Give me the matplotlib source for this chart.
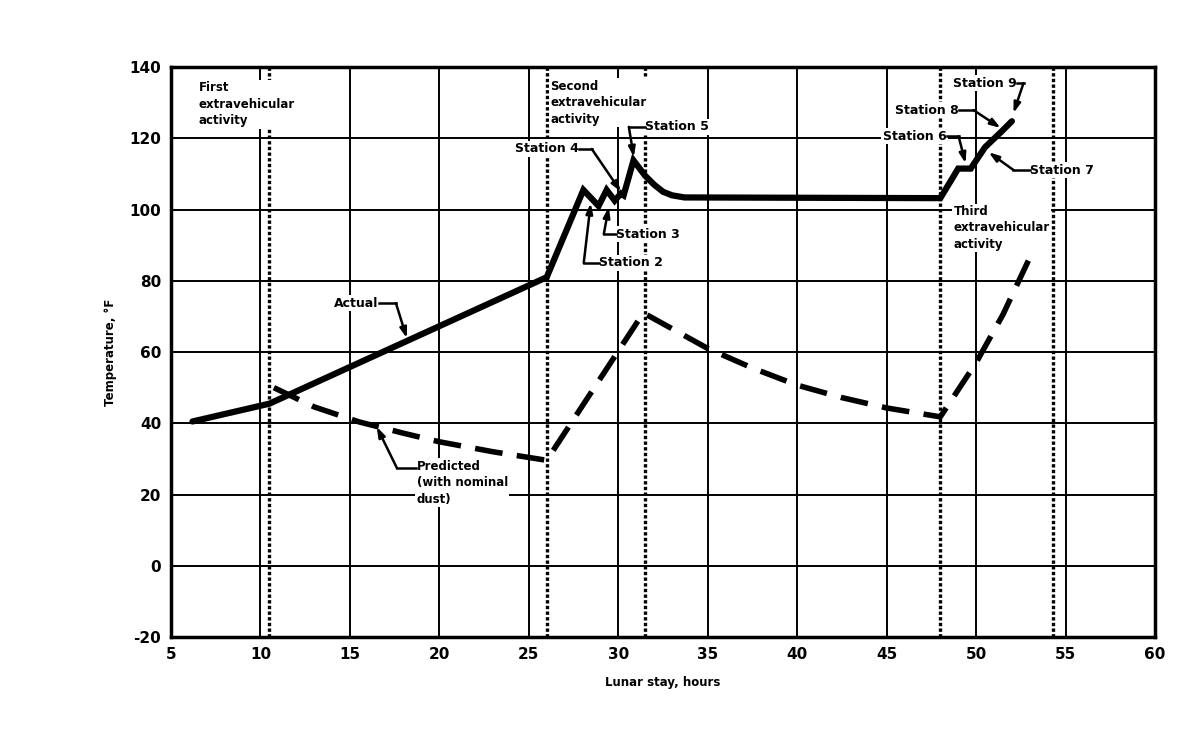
import matplotlib
matplotlib.use('Agg')
import matplotlib.pyplot as plt

plt.rcParams['axes.unicode_minus'] = False

# 实测温度曲线
actual_x = [6.2, 10.5, 26.0, 28.05, 28.9, 29.35, 29.8, 30.15, 30.3, 30.85,
            31.5, 32.0, 32.5, 33.0, 33.7, 48.0, 49.0, 49.7, 50.5, 51.4, 52.0]
actual_y = [40.5, 45.5, 81.0, 105.5, 101.0, 105.5, 102.5, 104.5, 104.0, 113.8,
            109.5, 107.0, 105.0, 104.0, 103.4, 103.2, 111.5, 111.5, 117.5, 121.8, 124.8]

# 预测温度曲线 (nominal dust)
pred_x = [10.75, 13.0, 15.5, 18.0, 20.0, 23.0, 26.0, 31.4, 35.0, 37.5, 40.0,
          42.5, 45.0, 48.0, 50.0, 51.5, 53.0]
pred_y = [50.0, 44.6, 40.4, 37.2, 34.8, 32.0, 29.6, 71.0, 61.0, 55.5, 50.7,
          47.2, 44.3, 41.8, 57.0, 70.5, 86.5]

# 舱外活动开始/结束时刻
eva_hours = [10.5, 26.0, 31.5, 48.0, 54.3]

x_ticks = [5, 10, 15, 20, 25, 30, 35, 40, 45, 50, 55, 60]
y_ticks = [-20, 0, 20, 40, 60, 80, 100, 120, 140]

# 标注: 文字, 文字位置, 对齐, 折点, 箭头指向
labels = [
    ("Station 2", (28.9, 85.0), 'left', (28.07, 85.0), (28.46, 101.8)),
    ("Station 3", (29.9, 93.1), 'left', (29.19, 93.1), (29.47, 100.7)),
    ("Station 4", (27.79, 117.0), 'right', (28.52, 117.0), (30.15, 105.0)),
    ("Station 5", (31.48, 123.2), 'left', (30.59, 123.2), (30.87, 114.7)),
    ("Station 6", (48.35, 120.6), 'right', (49.02, 120.6), (49.41, 113.0)),
    ("Station 7", (53.04, 111.1), 'left', (52.09, 111.1), (50.7, 116.1)),
    ("Station 8", (49.02, 127.9), 'right', (49.86, 127.9), (51.37, 122.9)),
    ("Station 9", (52.26, 135.5), 'right', (52.65, 135.5), (52.09, 127.1)),
]

ARROW = dict(arrowstyle='-|>,head_length=0.6,head_width=0.2',
             color='black', lw=1.8, shrinkA=0, shrinkB=0)


def leader(ax, text, pos, ha, corner, tip, size):
    """文字 + 水平短线 + 斜向箭头"""
    ax.text(pos[0], pos[1], text, fontsize=size, fontweight='bold', ha=ha,
            va='center', bbox=dict(facecolor='white', edgecolor='none', pad=1),
            zorder=5)
    ax.plot([pos[0], corner[0]], [pos[1], corner[1]], color='black',
            linewidth=1.8, zorder=5)
    ax.annotate('', xy=tip, xytext=corner, arrowprops=ARROW, zorder=5)


fig = plt.figure(figsize=(12, 7.37), dpi=100)
ax = fig.add_axes([0.1425, 0.1357, 0.82, 0.7733])

ax.set_xlim(5, 60)
ax.set_ylim(-20, 140)
ax.set_xticks(x_ticks)
ax.set_yticks(y_ticks)
ax.tick_params(length=0, labelsize=11, pad=7)
for lab in ax.get_xticklabels() + ax.get_yticklabels():
    lab.set_fontweight('bold')
ax.grid(True, color='black', linewidth=1.4)
ax.set_axisbelow(True)
for sp in ax.spines.values():
    sp.set_linewidth(2.5)

for h in eva_hours:
    ax.axvline(h, color='black', linewidth=2.4, linestyle=(0, (1, 0.7)), zorder=1)

ax.plot(actual_x, actual_y, color='black', linewidth=4.5, solid_joinstyle='miter',
        solid_capstyle='round', zorder=4)
ax.plot(pred_x, pred_y, color='black', linewidth=4.0, linestyle=(0, (5, 2.6)),
        zorder=4)

box = dict(facecolor='white', edgecolor='none', pad=1)
ax.text(6.56, 136.0, "First\nextravehicular\nactivity", fontsize=8.5, fontweight='bold',
        va='top', ha='left', linespacing=1.35, bbox=box, zorder=3)
ax.text(26.2, 136.5, "Second\nextravehicular\nactivity", fontsize=8.5, fontweight='bold',
        va='top', ha='left', linespacing=1.35, bbox=box, zorder=3)
ax.text(48.74, 101.3, "Third\nextravehicular\nactivity", fontsize=8.5, fontweight='bold',
        va='top', ha='left', linespacing=1.35, bbox=box, zorder=3)

for text, pos, ha, corner, tip in labels:
    leader(ax, text, pos, ha, corner, tip, 9)
leader(ax, "Actual", (16.6, 73.75), 'right', (17.57, 73.75), (18.18, 63.9), 9)

# 预测曲线标注
ax.text(18.74, 29.8, "Predicted\n(with nominal\ndust)", fontsize=8.5, fontweight='bold',
        ha='left', va='top', linespacing=1.35, bbox=box, zorder=5)
ax.plot([18.7, 17.63], [27.4, 27.4], color='black', linewidth=1.8, zorder=5)
ax.annotate('', xy=(16.5, 39.0), xytext=(17.63, 27.4), arrowprops=ARROW, zorder=5)

ax.set_xlabel("Lunar stay, hours", fontsize=8.5, fontweight='bold', labelpad=10)
ax.set_ylabel("Temperature, \u00b0F", fontsize=8.5, fontweight='bold', labelpad=9)

fig.savefig("out.png", dpi=100)
